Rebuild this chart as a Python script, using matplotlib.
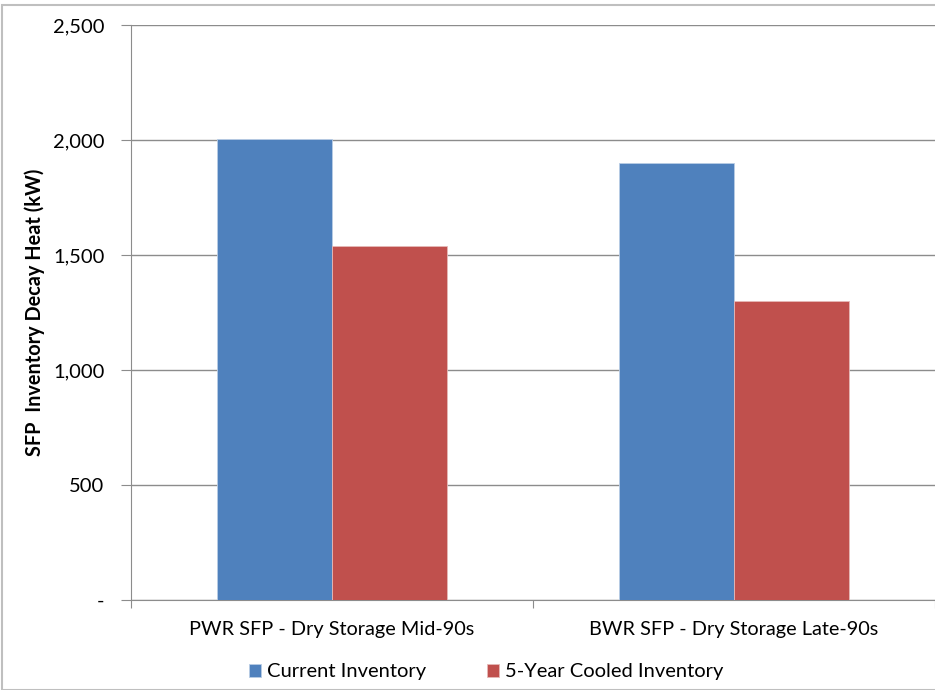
import matplotlib.pyplot as plt
from matplotlib.patches import Rectangle
from matplotlib.ticker import FuncFormatter
import numpy as np

plt.rcParams['font.family'] = ['Lato', 'DejaVu Sans']

categories = ["PWR SFP - Dry Storage Mid-90s", "BWR SFP - Dry Storage Late-90s"]
current_inventory = [2005, 1900]
cooled_inventory = [1540, 1300]
series_names = ["Current Inventory", "5-Year Cooled Inventory"]
colors = ["#4f81bd", "#c0504d"]

fig = plt.figure(figsize=(9.35, 6.9), dpi=100)
ax = fig.add_axes([131 / 935, 90 / 690, 804 / 935, 575 / 690])

x = np.arange(len(categories))
width = 0.286
ax.bar(x - width / 2, current_inventory, width, color=colors[0],
       edgecolor="#b9cde5", linewidth=0.6, label=series_names[0], zorder=3)
ax.bar(x + width / 2, cooled_inventory, width, color=colors[1],
       edgecolor="#e6b9b8", linewidth=0.6, label=series_names[1], zorder=3)

ax.set_xlim(-0.5, 1.5)
ax.set_ylim(0, 2500)
ax.set_yticks(range(0, 2501, 500))
ax.yaxis.set_major_formatter(FuncFormatter(lambda v, p: "-" if v == 0 else f"{int(v):,}"))
ax.grid(axis="y", color="#8c8c8c", linewidth=1, zorder=0)

# category boundaries get the ticks, labels sit in the middle
ax.set_xticks([-0.5, 0.5, 1.5])
ax.set_xticklabels([])
ax.set_xticks(x, minor=True)
ax.set_xticklabels(categories, minor=True)
ax.tick_params(axis="x", which="minor", length=0, pad=15, labelsize=14.3)
ax.tick_params(axis="x", which="major", length=6, color="#8c8c8c")
ax.tick_params(axis="y", length=7, color="#8c8c8c", labelsize=14.5, pad=12)

for side in ["top", "right"]:
    ax.spines[side].set_visible(False)
for side in ["left", "bottom"]:
    ax.spines[side].set_color("#8c8c8c")

ax.set_ylabel("SFP  Inventory Decay Heat (kW)", fontsize=14.3, fontweight="bold", labelpad=6)

fig.legend(loc="center", bbox_to_anchor=(486 / 935, 1 - 672 / 690), ncol=2,
           frameon=False, fontsize=14.5, handlelength=0.6, handleheight=0.6,
           handletextpad=0.3, columnspacing=3.0)

fig.patches.append(Rectangle((2 / 935, 0), 1, 1 - 5 / 690, transform=fig.transFigure,
                             fill=False, edgecolor="#bfbfbf", linewidth=1.5))

fig.savefig("out.png", dpi=100)
